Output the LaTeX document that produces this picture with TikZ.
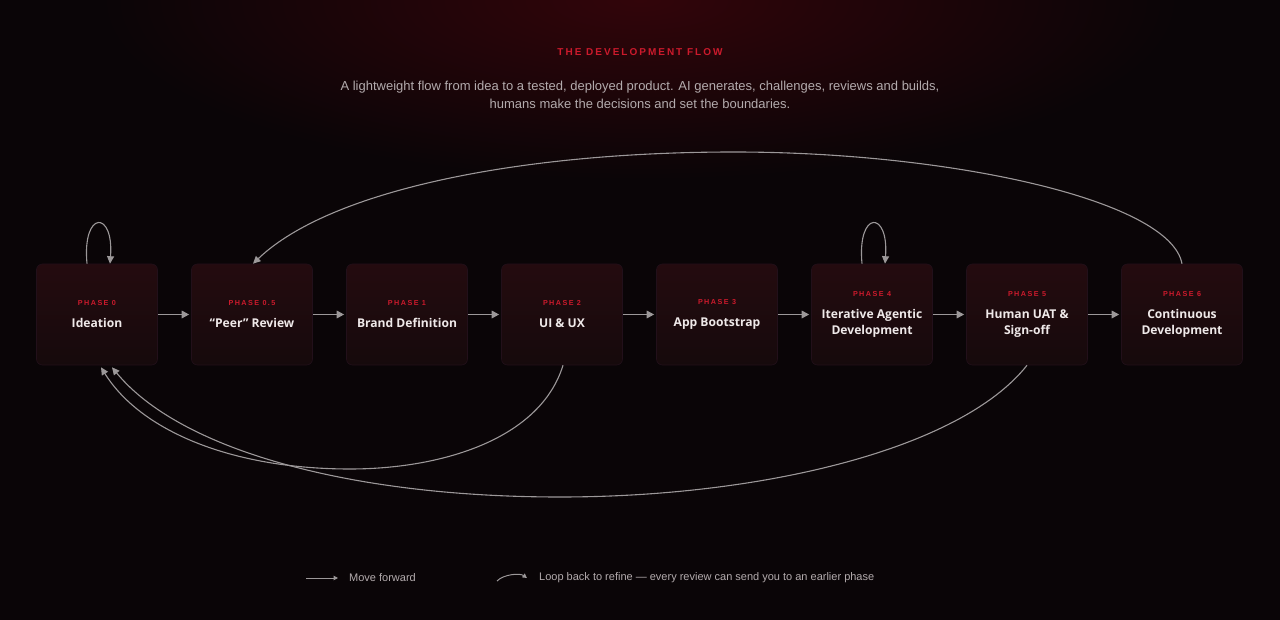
\documentclass[tikz,border=0pt]{standalone}
\usepackage{fontspec}
\setmainfont{Liberation Sans}
\newfontfamily\boxfont{Open Sans}
\newfontfamily\capsfont[LetterSpace=20]{Liberation Sans}
\usetikzlibrary{arrows.meta,positioning}
\definecolor{bg}{HTML}{0A0507}
\definecolor{glow}{HTML}{32050A}
\definecolor{phasered}{HTML}{CC1A2C}
\definecolor{boxtop}{HTML}{240B0F}
\definecolor{boxbot}{HTML}{160A0C}
\definecolor{boxline}{HTML}{22101A}
\definecolor{flowgray}{HTML}{9C9899}
\definecolor{subgray}{HTML}{B3ABAD}
\definecolor{titlewhite}{HTML}{EFE9E9}
\tikzset{
  phase/.style={draw=boxline,line width=0.6pt,rounded corners=6pt,top color=boxtop,bottom color=boxbot,
    minimum width=121pt,minimum height=101pt,inner sep=0pt,align=center,text=titlewhite,
    font=\boxfont\bfseries\fontsize{12.1}{16}\selectfont},
  fwd/.style={draw=flowgray,line width=1.6pt,-{Triangle[length=7.5pt,width=7.5pt]},shorten >=2pt},
  back/.style={draw=flowgray,line width=1.1pt,-{Triangle[length=7.5pt,width=7pt]}},
  legendtext/.style={anchor=west,inner sep=0pt,text=subgray,font=\fontsize{11}{13}\selectfont}
}
\newcommand{\phaselabel}[1]{{\capsfont\bfseries\fontsize{7.2}{8}\selectfont\color{phasered}PHASE #1}}
\begin{document}
\begin{tikzpicture}[x=1pt,y=-1pt]
  \useasboundingbox (0,0) rectangle (1280,620);
  \begin{scope}
    \clip (0,0) rectangle (1280,620);
    \fill[bg] (0,0) rectangle (1280,620);
    \shade[inner color=glow,outer color=bg] (640,0) ellipse [x radius=540pt,y radius=180pt];
  \end{scope}

  \node[text=phasered,font=\capsfont\bfseries\fontsize{10}{12}\selectfont] (head) at (640,52) {THE DEVELOPMENT FLOW};
  \node[text=subgray,align=center,font=\fontsize{13}{18.5}\selectfont] (sub) at (640,95)
    {A lightweight flow from idea to a tested, deployed product. AI generates, challenges, reviews and builds,\\
     humans make the decisions and set the boundaries.};

  \foreach \id/\x/\num/\ttl in {p0/97/0/Ideation, p05/252/0.5/“Peer” Review, p1/407/1/Brand Definition,
      p2/562/2/UI \& UX, p3/717/3/App Bootstrap, p4/872/4/{Iterative Agentic\\Development},
      p5/1027/5/{Human UAT \&\\Sign-off}, p6/1182/6/{Continuous\\Development}}
    \node[phase] (\id) at (\x,314.5) {\phaselabel{\num}\\[6pt]\ttl};

  \foreach \a/\b in {p0/p05, p05/p1, p1/p2, p2/p3, p3/p4, p4/p5, p5/p6}
    \draw[fwd] (\a) -- (\b);

  \draw[back] ([xshift=-10pt]p0.north) .. controls (82,210) and (114,210) .. ([xshift=13pt]p0.north);
  \draw[back] ([xshift=-10pt]p4.north) .. controls (857,210) and (889,210) .. ([xshift=13pt]p4.north);
  \draw[back] (p6.north) .. controls (1170,200) and (950,152) .. (734,152)
    .. controls (520,152) and (330,190) .. ([xshift=1pt]p05.north);
  \draw[back] ([xshift=1pt]p2.south) .. controls (540,440) and (440,469) .. (350,469)
    .. controls (230,469) and (140,430) .. ([xshift=4pt,yshift=-2pt]p0.south);
  \draw[back] (p5.south) .. controls (960,450) and (760,497) .. (560,497)
    .. controls (350,497) and (180,450) .. ([xshift=15pt,yshift=-2pt]p0.south);

  \node[legendtext] (lfwd) at (349,578) {Move forward};
  \node[legendtext] (lback) at (539,578) {Loop back to refine — every review can send you to an earlier phase};
  \draw[draw=flowgray,line width=1pt,-{Triangle[length=4.5pt,width=4.5pt]}] ([xshift=-43pt]lfwd.west) -- ([xshift=-11pt]lfwd.west);
  \draw[draw=flowgray,line width=1pt,-{Triangle[length=4.5pt,width=4.5pt]}] ([xshift=-42pt,yshift=-3pt]lback.west)
    .. controls ([xshift=-35pt,yshift=4pt]lback.west) and ([xshift=-19pt,yshift=5pt]lback.west) .. ([xshift=-12pt]lback.west);
\end{tikzpicture}
\end{document}
